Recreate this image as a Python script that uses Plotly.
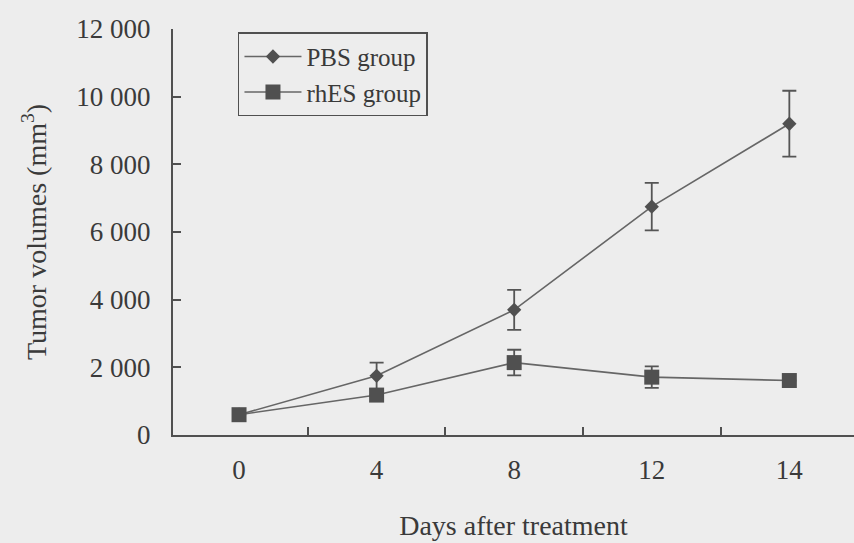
import plotly.graph_objects as go

days = ["0", "4", "8", "12", "14"]
pbs_mean = [600, 1750, 3700, 6750, 9200]
pbs_err = [0, 390, 590, 700, 975]
rhes_mean = [600, 1180, 2140, 1710, 1610]
rhes_err = [0, 0, 380, 320, 0]

y_ticks = [0, 2000, 4000, 6000, 8000, 10000, 12000]

ink = "#3a3a3a"
line_col = "#666666"
font = "Liberation Serif"

fig = go.Figure()
fig.add_trace(go.Scatter(
    x=days, y=pbs_mean, name="PBS group", mode="lines+markers",
    line=dict(color=line_col, width=1.6),
    marker=dict(symbol="diamond", size=11, color="#505050"),
    error_y=dict(type="data", array=pbs_err, visible=True, color="#555555",
                 thickness=1.8, width=7),
))
fig.add_trace(go.Scatter(
    x=days, y=rhes_mean, name="rhES group", mode="lines+markers",
    line=dict(color=line_col, width=1.6),
    marker=dict(symbol="square", size=15, color="#505050"),
    error_y=dict(type="data", array=rhes_err, visible=True, color="#555555",
                 thickness=1.8, width=7),
))

fig.update_layout(
    width=854, height=543,
    margin=dict(l=173, r=0, t=29, b=108),
    paper_bgcolor="#ededed", plot_bgcolor="#ededed",
    font=dict(family=font, size=27, color=ink),
    separators=". ",
    showlegend=True,
    legend=dict(x=0.0954, y=0.992, xanchor="left", yanchor="top",
                bordercolor="#505050", borderwidth=1.5, bgcolor="rgba(0,0,0,0)",
                font=dict(family=font, size=25, color=ink), itemwidth=57,
                tracegroupgap=0),
    xaxis=dict(
        type="category", categoryorder="array", categoryarray=days,
        range=[-0.48, 4.47], tickson="boundaries",
        showline=True, linecolor="#505050", linewidth=2,
        ticks="inside", ticklen=8, tickwidth=1.5, tickcolor="#505050",
        showgrid=False, zeroline=False, ticklabelstandoff=10,
        tickfont=dict(family=font, size=27, color=ink),
        title=dict(text="Days after treatment", standoff=31,
                   font=dict(family=font, size=28, color=ink)),
    ),
    yaxis=dict(
        range=[0, 12000], tickvals=y_ticks, tickformat=",d",
        showline=True, linecolor="#505050", linewidth=2,
        ticks="inside", ticklen=8, tickwidth=1.5, tickcolor="#505050",
        showgrid=False, zeroline=False, ticklabelstandoff=15,
        tickfont=dict(family=font, size=27, color=ink),
        title=dict(text="Tumor volumes (mm<sup>3</sup>)", standoff=22,
                   font=dict(family=font, size=28, color=ink)),
    ),
)

fig.write_html("out.html", config={"displayModeBar": False},
               post_script="document.body.style.margin='0';document.body.style.background='#ededed';")
